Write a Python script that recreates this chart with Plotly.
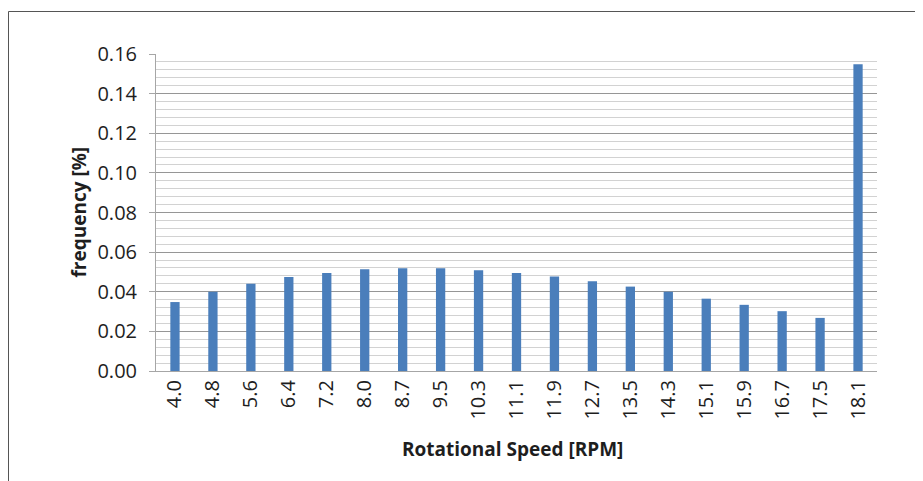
import plotly.graph_objects as go

speeds = ["4.0", "4.8", "5.6", "6.4", "7.2", "8.0", "8.7", "9.5", "10.3", "11.1",
          "11.9", "12.7", "13.5", "14.3", "15.1", "15.9", "16.7", "17.5", "18.1"]
frequency = [0.0348, 0.0400, 0.0440, 0.0474, 0.0495, 0.0513, 0.0518, 0.0518, 0.0508, 0.0495,
             0.0477, 0.0453, 0.0426, 0.0400, 0.0365, 0.0334, 0.0302, 0.0268, 0.1548]
y_ticks = [0.00, 0.02, 0.04, 0.06, 0.08, 0.10, 0.12, 0.14, 0.16]

OFF = 8  # page body margin
W, H = 923 - OFF, 481 - OFF
L, R, T, B = 156 - OFF, 46, 54 - OFF, 110
pw, ph = W - L - R, H - T - B

fig = go.Figure(go.Bar(x=speeds, y=frequency, marker=dict(color="#4a7ebb", line=dict(width=0))))

font = "Open Sans, Lato, sans-serif"
fig.update_layout(
    width=W, height=H,
    margin=dict(l=L, r=R, t=T, b=B, pad=0),
    paper_bgcolor="white", plot_bgcolor="white",
    bargap=0.755,
    showlegend=False,
    font=dict(family=font, color="#1e1e1e"),
    xaxis=dict(
        type="category",
        tickangle=-90,
        tickfont=dict(size=20, color="#1e1e1e"),
        showgrid=False,
        showline=True, linecolor="#a6a6a6", linewidth=1,
        ticks="", ticklen=0,
    ),
    yaxis=dict(
        range=[0, 0.16],
        tickvals=y_ticks,
        ticktext=[f"{v:.2f}" for v in y_ticks],
        tickfont=dict(size=20, color="#1e1e1e"),
        showgrid=True, gridcolor="#969696", gridwidth=1,
        showline=True, linecolor="#a6a6a6", linewidth=1,
        ticks="outside", ticklen=6, tickcolor="#a6a6a6",
        ticklabelstandoff=8,
        zeroline=False,
        minor=dict(dtick=0.004, tick0=0, showgrid=True, gridcolor="#d2d2d2", gridwidth=1),
    ),
)

# axis titles
fig.add_annotation(text="<b>frequency [%]</b>", xref="paper", yref="paper",
                   x=(78 - 156) / pw, y=0.5, xanchor="center", yanchor="middle",
                   textangle=-90, showarrow=False, font=dict(size=19, color="#1e1e1e"))
fig.add_annotation(text="<b>Rotational Speed [RPM]</b>", xref="paper", yref="paper",
                   x=(512 - 156) / pw, y=-(449 - 371) / ph, xanchor="center", yanchor="middle",
                   showarrow=False, font=dict(size=19, color="#1e1e1e"))

# outer frame (left and top edges of the picture border)
fx = (0.5 - L) / pw
fy = 1 + (T - 3.5) / ph
fig.add_shape(type="line", xref="paper", yref="paper",
              x0=fx, x1=fx, y0=-1.0, y1=fy, line=dict(color="#555555", width=1))
fig.add_shape(type="line", xref="paper", yref="paper",
              x0=fx, x1=1.5, y0=fy, y1=fy, line=dict(color="#555555", width=1))

fig.write_html("out.html")
